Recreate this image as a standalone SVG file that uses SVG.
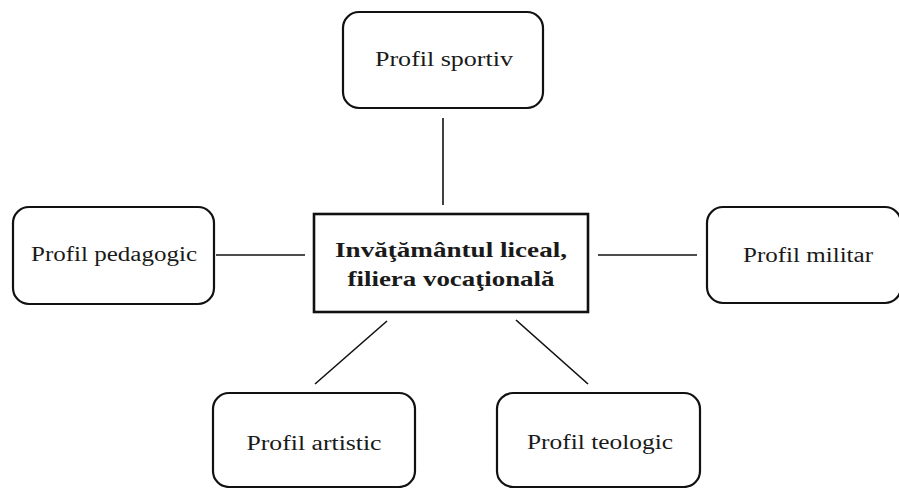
<svg xmlns="http://www.w3.org/2000/svg" width="899" height="488" viewBox="0 0 899 488">
<style>
.box{fill:#fff;stroke:#111;stroke-width:2.2}
.center{fill:#fff;stroke:#111;stroke-width:2.6}
.lbl{font-family:"Liberation Serif","Times New Roman",serif;font-size:20px;fill:#1a1a1a;text-anchor:middle}
.bold{font-family:"Liberation Serif","Times New Roman",serif;font-size:21px;font-weight:bold;fill:#1a1a1a;text-anchor:middle}
.con{stroke:#111;stroke-width:1.6;fill:none}
</style>
<rect width="899" height="488" fill="#fff"/>
<g id="connectors">
<line class="con" x1="443" y1="118" x2="443" y2="205"/>
<line class="con" x1="216" y1="255" x2="305" y2="255"/>
<line class="con" x1="598" y1="255" x2="697" y2="255"/>
<line class="con" x1="387" y1="321" x2="315" y2="384"/>
<line class="con" x1="516" y1="320" x2="588" y2="384"/>
</g>
<g id="center">
<rect class="center" x="314" y="214" width="274" height="98"/>
<text class="bold" x="451" y="257" textLength="232" lengthAdjust="spacingAndGlyphs">Invăţământul liceal,</text>
<text class="bold" x="451" y="286" textLength="207" lengthAdjust="spacingAndGlyphs">filiera vocaţională</text>
</g>
<g id="sportiv">
<rect class="box" x="343" y="12" width="200" height="96" rx="16"/>
<text class="lbl" x="444" y="66" textLength="138" lengthAdjust="spacingAndGlyphs">Profil sportiv</text>
</g>
<g id="pedagogic">
<rect class="box" x="13" y="207" width="201" height="97" rx="16"/>
<text class="lbl" x="114" y="261" textLength="166" lengthAdjust="spacingAndGlyphs">Profil pedagogic</text>
</g>
<g id="militar">
<rect class="box" x="707" y="207" width="194" height="96" rx="16"/>
<text class="lbl" x="808" y="262" textLength="130" lengthAdjust="spacingAndGlyphs">Profil militar</text>
</g>
<g id="artistic">
<rect class="box" x="213" y="393" width="202" height="94" rx="16"/>
<text class="lbl" x="314" y="450" textLength="135" lengthAdjust="spacingAndGlyphs">Profil artistic</text>
</g>
<g id="teologic">
<rect class="box" x="497" y="393" width="203" height="94" rx="16"/>
<text class="lbl" x="600" y="449" textLength="146" lengthAdjust="spacingAndGlyphs">Profil teologic</text>
</g>
</svg>
